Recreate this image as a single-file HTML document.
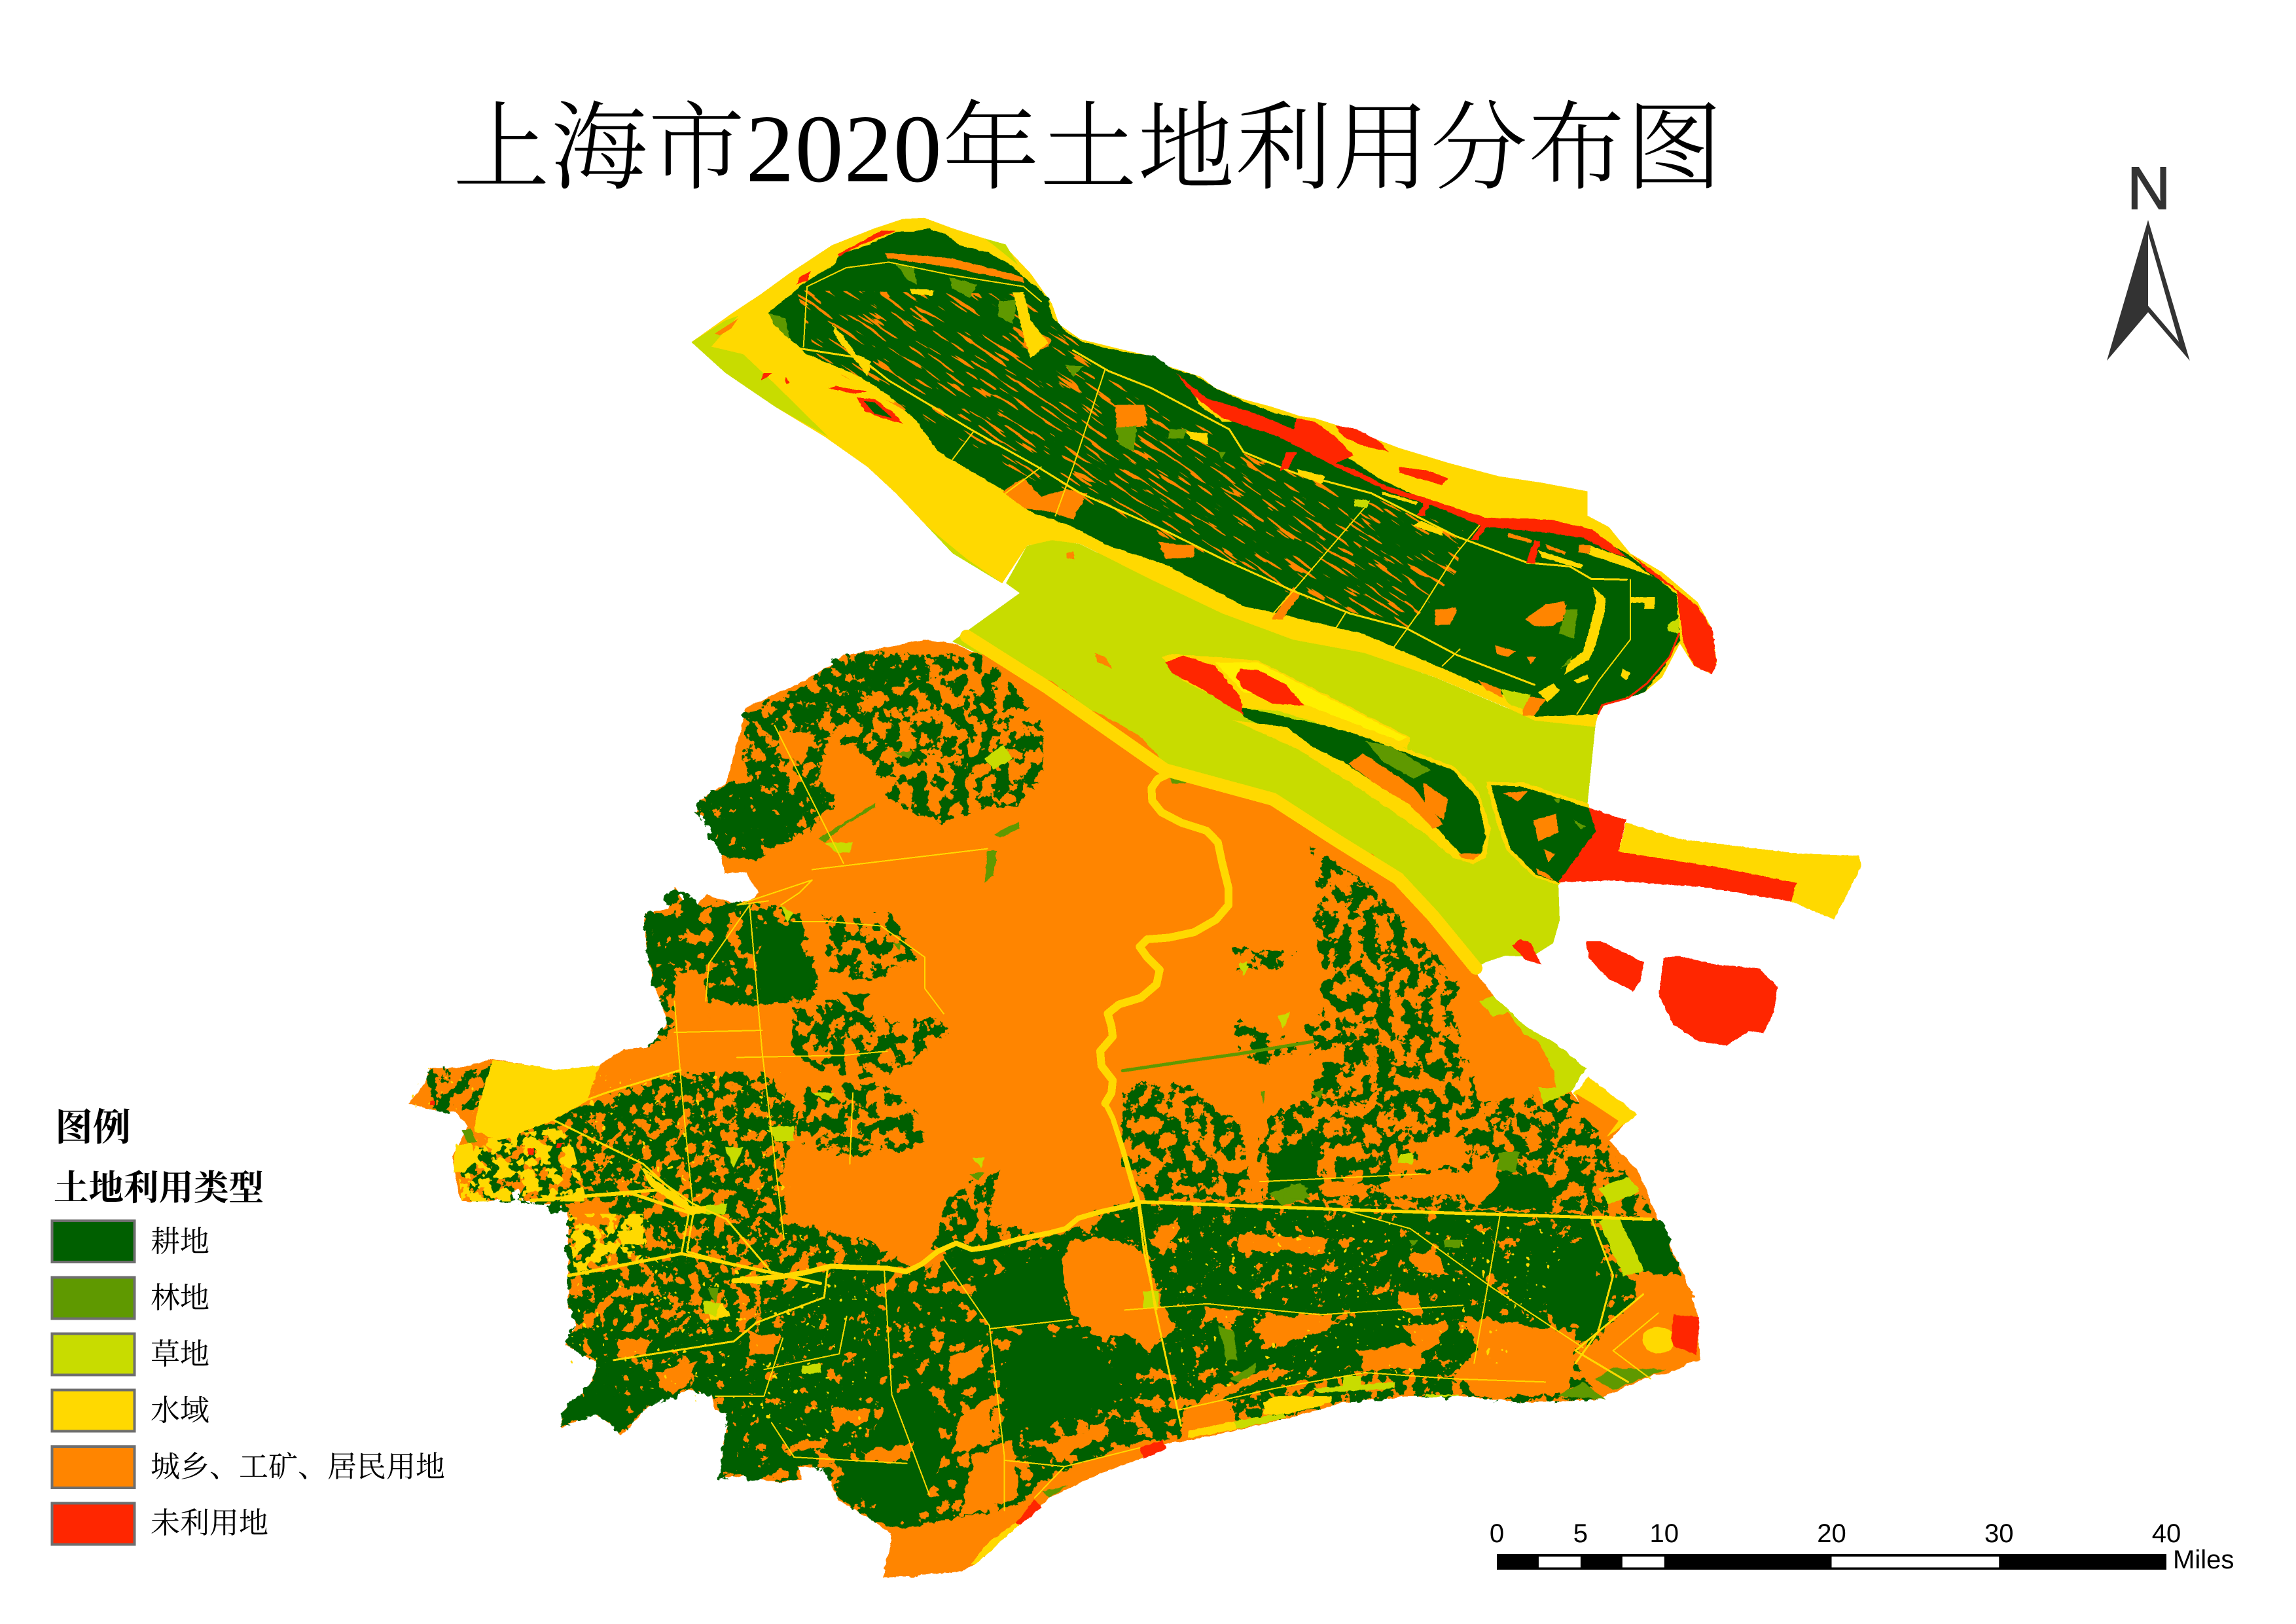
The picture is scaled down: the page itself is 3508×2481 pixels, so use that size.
<!DOCTYPE html>
<html lang="zh">
<head>
<meta charset="utf-8">
<title>上海市2020年土地利用分布图</title>
<style>
html,body{margin:0;padding:0;background:#fff}
svg{display:block}
.dk{fill:#005f00}.fo{fill:#5f9900}.gr{fill:#c8dc00}.wa{fill:#ffd900}.ur{fill:#ff8500}.re{fill:#ff2600}.by{fill:#fff000}
.r{fill:none;stroke:#ffd900;stroke-linejoin:round;stroke-linecap:round;vector-effect:non-scaling-stroke}
.w2{stroke-width:2}.w3{stroke-width:3}.w5{stroke-width:5}.w8{stroke-width:8}.w12{stroke-width:12}.w16{stroke-width:16}.w26{stroke-width:20}
.cjk{font-family:"Liberation Serif","Noto Serif CJK SC",serif}
.sans{font-family:"Liberation Sans",sans-serif}
</style>
</head>
<body>
<svg id="map-figure" xmlns="http://www.w3.org/2000/svg" width="3508" height="2481" viewBox="0 0 3508 2481">
<defs>
<filter id="rough" filterUnits="userSpaceOnUse" x="0" y="0" width="3508" height="2481" color-interpolation-filters="sRGB">
<feTurbulence type="fractalNoise" baseFrequency=".06" numOctaves="3" seed="7" result="n"/>
<feDisplacementMap in="SourceGraphic" in2="n" scale="18" xChannelSelector="R" yChannelSelector="G"/>
</filter>
<filter id="fine" filterUnits="userSpaceOnUse" x="0" y="0" width="3508" height="2481" color-interpolation-filters="sRGB">
<feTurbulence type="fractalNoise" baseFrequency=".09" numOctaves="2" seed="11" result="n"/>
<feDisplacementMap in="SourceGraphic" in2="n" scale="5" xChannelSelector="R" yChannelSelector="G"/>
</filter>
<filter id="g50" filterUnits="userSpaceOnUse" x="0" y="0" width="3508" height="2481" color-interpolation-filters="sRGB">
<feTurbulence type="fractalNoise" baseFrequency=".048" numOctaves="4" seed="4" result="n"/>
<feColorMatrix in="n" type="matrix" values="0 0 0 0 0 0 0 0 0 0 0 0 0 0 0 1 0 0 0 0" result="a"/>
<feComponentTransfer in="a" result="m"><feFuncA type="linear" slope="60" intercept="-29.4"/></feComponentTransfer>
<feDisplacementMap in="SourceGraphic" in2="n" scale="24" xChannelSelector="R" yChannelSelector="G" result="d"/>
<feComposite in="d" in2="m" operator="in"/>
</filter>
<filter id="g72" filterUnits="userSpaceOnUse" x="0" y="0" width="3508" height="2481" color-interpolation-filters="sRGB">
<feTurbulence type="fractalNoise" baseFrequency=".055" numOctaves="4" seed="9" result="n"/>
<feColorMatrix in="n" type="matrix" values="0 0 0 0 0 0 0 0 0 0 0 0 0 0 0 1 0 0 0 0" result="a"/>
<feComponentTransfer in="a" result="m"><feFuncA type="linear" slope="60" intercept="-26.4"/></feComponentTransfer>
<feDisplacementMap in="SourceGraphic" in2="n" scale="20" xChannelSelector="R" yChannelSelector="G" result="d"/>
<feComposite in="d" in2="m" operator="in"/>
</filter>
<filter id="g85" filterUnits="userSpaceOnUse" x="0" y="0" width="3508" height="2481" color-interpolation-filters="sRGB">
<feTurbulence type="fractalNoise" baseFrequency=".045" numOctaves="4" seed="15" result="n"/>
<feColorMatrix in="n" type="matrix" values="0 0 0 0 0 0 0 0 0 0 0 0 0 0 0 1 0 0 0 0" result="a"/>
<feComponentTransfer in="a" result="m"><feFuncA type="linear" slope="60" intercept="-23.4"/></feComponentTransfer>
<feDisplacementMap in="SourceGraphic" in2="n" scale="20" xChannelSelector="R" yChannelSelector="G" result="d"/>
<feComposite in="d" in2="m" operator="in"/>
</filter>
<filter id="ys" filterUnits="userSpaceOnUse" x="0" y="0" width="3508" height="2481" color-interpolation-filters="sRGB">
<feTurbulence type="fractalNoise" baseFrequency=".05" numOctaves="3" seed="21" result="n"/>
<feColorMatrix in="n" type="matrix" values="0 0 0 0 0 0 0 0 0 0 0 0 0 0 0 1 0 0 0 0" result="a"/>
<feComponentTransfer in="a" result="m"><feFuncA type="linear" slope="60" intercept="-30"/></feComponentTransfer>
<feComposite in="SourceGraphic" in2="m" operator="in"/>
</filter>
<filter id="ys2" filterUnits="userSpaceOnUse" x="0" y="0" width="3508" height="2481" color-interpolation-filters="sRGB">
<feTurbulence type="fractalNoise" baseFrequency=".1" numOctaves="2" seed="31" result="n"/>
<feColorMatrix in="n" type="matrix" values="0 0 0 0 0 0 0 0 0 0 0 0 0 0 0 1 0 0 0 0" result="a"/>
<feComponentTransfer in="a" result="m"><feFuncA type="linear" slope="60" intercept="-44.4"/></feComponentTransfer>
<feComposite in="SourceGraphic" in2="m" operator="in"/>
</filter>
<filter id="streak" filterUnits="userSpaceOnUse" x="-1500" y="-1500" width="6500" height="6500" color-interpolation-filters="sRGB">
<feTurbulence type="fractalNoise" baseFrequency=".02 .17" numOctaves="2" seed="5" result="n"/>
<feColorMatrix in="n" type="matrix" values="0 0 0 0 0 0 0 0 0 0 0 0 0 0 0 1 0 0 0 0" result="a"/>
<feComponentTransfer in="a" result="m"><feFuncA type="linear" slope="60" intercept="-37.8"/></feComponentTransfer>
<feComposite in="SourceGraphic" in2="m" operator="in"/>
</filter>
</defs>

<rect width="3508" height="2481" fill="#fff"/>

<text class="cjk" x="692" y="277" font-size="148" textLength="1940" lengthAdjust="spacing" font-weight="300" fill="#000">上海市2020年土地利用分布图</text>

<g id="map" shape-rendering="crispEdges">

<!-- Yangtze grass and north-bank water -->
<g>
<polygon class="gr" points="1558,906 1537,891 1569,834 1607,825 1650,831 1759,885 1867,937 1976,977 2084,997 2193,1035 2301,1081 2344,1098 2439,1095 2425,1233 2381,1349 2383,1406 2373,1441 2340,1462 2300,1460 2270,1470 2255,1479 2190,1400 2136,1342 2044,1285 1945,1221 1853,1196 1780,1176 1700,1120 1600,1050 1455,980"/>
</g>
<g transform="translate(1000 300) scale(1.0842 .574)">
<polygon class="wa" points="52,388 110,310 150,260 190,205 250,130 310,85 350,60 380,57 420,85 470,115 500,145 530,205 560,285 570,340 600,380 660,408 700,425 720,450 770,480 790,510 830,540 870,560 910,585 930,590 980,620 1050,670 1120,710 1190,745 1250,762 1315,785 1315,850 1345,880 1375,950 1420,1000 1470,1080 1490,1150 1497,1240 1490,1272 1465,1250 1445,1190 1420,1280 1395,1320 1340,1350 1330,1378 1325,1412 1240,1395 1200,1360 1100,1280 1000,1215 900,1180 800,1110 700,1020 600,925 560,915 525,930 490,1030 420,950 380,870 340,790 300,720 240,640 170,560 100,470"/>
<polygon class="gr" points="52,388 100,330 118,318 80,400 125,420 170,500 245,640 170,560 100,470"/>
<polygon class="ur" points="85,365 118,325 108,352 92,370"/>
<polygon class="gr" points="380,870 395,895 440,965 490,1030 420,950"/>
<polygon class="gr" points="465,112 495,128 512,182 478,130"/>
</g>

<!-- South land base (urban) -->
<g filter="url(#fine)">
<g transform="translate(600 1000) scale(.9566 .6378)">
<polygon class="ur" points="280,1568 280,1340 260,1310 210,1310 200,1280 190,1285 190,1305 125,1310 110,1310 105,1290 95,1200 120,1130 100,1095 60,1090 25,1075 50,1030 60,990 110,990 160,968 220,985 260,995 330,985 345,968 370,945 410,940 440,880 420,800 405,700 402,620 440,610 450,555 465,590 485,600 500,575 545,595 570,590 585,570 570,540 565,520 530,525 525,480 510,400 485,380 490,350 520,320 570,280 555,250 570,215 560,190 570,165 560,140 590,120 640,90 690,45 720,0 745,0 850,0 975,0 1100,120 1190,190 1240,270 1568,480 1568,1568"/>
</g>
<g transform="translate(800 1700) scale(1.148 .4783)">
<polygon class="ur" points="0,280 55,300 70,420 60,520 70,680 55,740 85,780 100,800 85,880 55,950 50,1005 95,960 120,1000 128,1030 135,1020 165,940 190,905 220,885 250,900 255,950 280,970 270,1010 265,1080 262,1165 290,1160 340,1180 370,1170 365,1130 400,1135 420,1240 470,1310 490,1345 480,1485 580,1465 600,1445 660,1310 700,1230 760,1160 820,1105 850,1060 890,1045 1020,975 1090,925 1180,905 1250,905 1330,925 1430,915 1520,820 1566,790 1560,640 1500,340 1440,100 1480,0 0,0"/>
</g>
<g transform="translate(1700 1100) scale(.7653 .6378)">
<polygon class="ur" points="0,20 100,110 320,190 450,290 570,380 640,470 725,605 760,660 830,740 945,835 915,890 985,1000 1050,1080 1090,1200 1140,1330 1170,1430 1165,1520 1140,1550 1100,1568 0,1568"/>
</g>
<g transform="translate(1000 300) scale(1.0842 .574)">
<polygon class="ur" points="380,1180 420,1190 560,1290 720,1520 720,1568 100,1568 130,1360 210,1290 275,1220"/>
</g>
</g>

<!-- Farmland: mid density -->
<g class="dk" filter="url(#g50)">
<g transform="translate(600 1000) scale(.9566 .6378)">
<polygon points="620,150 720,0 950,0 1040,170 1040,300 1000,360 900,390 870,400 800,350 760,250 700,190"/>
<polygon points="640,850 700,830 800,880 870,870 890,900 820,990 750,1020 640,960"/>
<polygon points="690,630 800,620 840,730 760,780 700,760"/>
<polygon points="650,1050 780,1020 850,1120 850,1180 730,1200 650,1170"/>
<polygon points="1165,1030 1250,1020 1360,1130 1350,1300 1200,1310 1170,1170"/>
<polygon points="1400,1100 1568,1000 1568,1290 1400,1300"/>
<polygon points="1350,870 1460,940 1400,980 1350,950"/>
<polygon points="1345,700 1430,720 1420,750 1350,750"/>
<polygon points="60,1000 180,975 190,1050 130,1090 60,1090"/>
</g>
<g transform="translate(1700 1100) scale(.7653 .6378)">
<polygon points="400,300 520,400 640,560 700,640 640,740 600,700 500,760 400,800 390,730 420,700 420,600 405,490"/>
<polygon points="20,1050 70,940 150,880 260,980 280,1140 180,1150 60,1120"/>
<polygon points="290,1000 400,950 400,820 500,760 600,700 680,700 740,920 830,890 900,1000 970,1180 300,1150"/>
<polygon points="850,890 920,900 980,1000 1080,1180 980,1190 930,1100"/>
<polygon points="250,560 370,550 330,600 260,600"/>
</g>
</g>

<!-- Farmland: medium-high density -->
<g class="dk" filter="url(#g72)">
<g transform="translate(600 1000) scale(.9566 .6378)">
<polygon points="260,1100 460,1000 600,1000 650,1100 620,1250 640,1420 640,1568 280,1568 280,1340 200,1310 125,1310 105,1200"/>
<polygon points="860,1420 890,1300 970,1230 950,1360 1040,1390 1010,1420 900,1450"/>
<polygon points="1120,1340 1190,1300 1190,1400 1140,1420"/>
<polygon points="590,120 640,90 690,45 720,0 850,0 860,60 780,90 700,130 640,190 600,190"/>
<polygon points="560,140 620,120 700,190 680,300 720,350 660,420 580,490 525,480 510,400 485,380 490,350 570,280 555,250 570,215 560,190 570,165"/>
<polygon points="405,620 470,640 470,800 450,900 410,940 440,880 420,800 405,700"/>
</g>
<g transform="translate(1700 1100) scale(.7653 .6378)">
<polygon points="50,1170 960,1190 990,1400 960,1480 850,1540 0,1568 0,1200"/>
</g>
<g transform="translate(800 1700) scale(1.148 .4783)">
<polygon points="55,300 200,250 330,330 470,420 470,900 330,1100 262,1165 265,1060 275,990 255,900 220,885 165,940 128,1030 120,1000 95,960 50,1005 55,950 85,880 100,800 55,740 70,680 60,520"/>
<polygon points="940,900 1000,860 1100,820 1240,830 1360,840 1400,790 1430,915 1330,925 1250,905 1180,905 1090,925 1020,975 950,990"/>
</g>
</g>

<!-- Farmland: high density -->
<g class="dk" filter="url(#g85)">
<g transform="translate(600 1000) scale(.9566 .6378)">
<polygon points="525,480 485,380 490,350 570,280 620,330 700,340 670,410 580,490"/>
<polygon points="402,620 450,560 490,600 570,590 650,620 680,770 670,830 580,840 500,830 460,750 420,800 405,700"/>
<polygon points="880,1440 1040,1400 1100,1370 1120,1568 880,1568"/>
</g>
<g transform="translate(800 1700) scale(1.148 .4783)">
<polygon points="330,600 470,420 520,500 720,400 800,300 1000,280 1420,330 1500,340 1520,500 1420,740 1390,790 1300,770 1270,800 1240,830 1100,830 1020,870 880,960 875,1040 820,1050 700,1160 640,1280 500,1330 470,1310 420,1240 400,1135 365,1130 370,1170 340,1180 290,1160 262,1165 265,1060 275,990"/>
<polygon points="60,700 330,700 270,1000 250,900 220,885 165,940 128,1030 120,1000 95,960 50,1005 55,950 85,880 100,800 55,740 70,680"/>
</g>
</g>

<!-- Solid farmland -->
<g class="dk" filter="url(#rough)">
<g transform="translate(800 1700) scale(1.148 .4783)">
<polygon points="600,540 720,430 720,620 730,680 620,690"/>
<polygon points="650,700 760,720 800,900 700,1000 640,1000"/>
<polygon points="1060,720 1180,560 1180,700 1150,800 1050,810"/>
<polygon points="1290,480 1430,400 1430,720 1370,640"/>
<polygon points="55,960 90,900 130,930 128,1020 95,960 52,1000"/>
<polygon points="490,900 540,850 560,1100 520,1300 480,1280 430,1170"/>
</g>
<g transform="translate(600 1000) scale(.9566 .6378)">
<polygon points="585,640 650,650 670,820 585,835"/>
<polygon points="1400,1200 1470,1150 1480,1290 1400,1290"/>
<polygon points="720,815 760,815 745,855"/>
</g>
<g transform="translate(1700 1100) scale(.7653 .6378)">
<polygon points="1000,1190 1095,1200 1140,1335 1060,1325"/>
<polygon points="740,1085 860,1090 880,1180 740,1165"/>
</g>
</g>

<!-- Urban patches over farmland -->
<g class="ur" filter="url(#rough)">
<g transform="translate(800 1700) scale(1.148 .4783)">
<polygon points="720,420 780,400 830,450 850,620 870,680 830,760 800,700 770,730 730,640 720,560"/>
<polygon points="480,1480 490,1345 530,1320 600,1280 650,1260 680,1240 600,1445 580,1465"/>
<polygon points="910,620 960,640 940,670 905,660"/>
<polygon points="990,640 1090,660 1040,720 990,740 970,700"/>
<polygon points="1170,680 1230,670 1220,730 1190,770"/>
<polygon points="1250,650 1400,700 1400,780 1390,900 1270,910 1240,830 1270,750"/>
<polygon points="1480,520 1530,510 1550,600 1510,640 1480,640"/>
<polygon points="880,950 930,880 960,850 1000,800 990,840 940,900 880,1020"/>
<polygon points="175,830 230,790 215,880 195,900"/>
<polygon points="125,720 170,720 165,770 125,790"/>
<polygon points="300,700 345,700 330,780 300,770"/>
<polygon points="565,780 610,740 610,820 570,860"/>
<polygon points="580,980 620,900 625,1060 570,1090"/>
<polygon points="700,1060 780,980 760,1040 710,1120"/>
<polygon points="410,940 460,950 455,990 415,990"/>
<polygon points="450,1080 520,1060 510,1110 460,1120"/>
<polygon points="1110,760 1190,740 1200,810 1120,825"/>
<polygon points="1230,240 1290,130 1300,230 1270,300"/>
<polygon points="600,1090 650,1050 660,1230 580,1290"/>
<polygon points="830,400 870,340 870,400 850,450"/>
<polygon points="950,400 1020,400 1010,440 950,445"/>
<polygon points="1180,450 1210,440 1230,520 1190,520"/>
</g>
<g transform="translate(1700 1100) scale(.7653 .6378)">
<polygon points="695,720 770,705 850,820 870,890 745,915"/>
<polygon points="1050,1325 1140,1330 1170,1430 1120,1440 1115,1490 1060,1480"/>
<polygon points="1000,1500 1100,1520 1060,1568 980,1568"/>
<polygon points="530,1110 640,1080 730,1080 700,1140 540,1140"/>
<polygon points="600,1010 700,1000 720,1060 620,1080"/>
<polygon points="410,1110 520,1110 490,1140 420,1140"/>
<polygon points="320,1440 440,1420 430,1460 330,1500"/>
<polygon points="250,1230 430,1240 420,1280 260,1270"/>
<polygon points="570,1370 610,1370 620,1430 580,1420"/>
</g>
<g transform="translate(600 1000) scale(.9566 .6378)">
<polygon points="450,760 500,760 505,900 450,900"/>
<polygon points="280,1320 330,1300 360,1370 290,1370"/>
<polygon points="620,180 680,190 650,260 610,240"/>
</g>
</g>

<!-- Yellow speckle west, sparse field ponds -->
<g class="wa" filter="url(#ys)">
<g transform="translate(600 1000) scale(.9566 .6378)">
<polygon points="100,1170 280,1130 310,1310 110,1310"/>
<polygon points="280,1340 400,1340 400,1450 290,1480"/>
</g>
</g>
<g class="wa" filter="url(#ys2)">
<g transform="translate(600 1000) scale(.9566 .6378)">
<polygon points="300,1000 640,1000 640,1300 300,1300"/>
<polygon points="20,980 200,980 180,1100 30,1100"/>
</g>
<g transform="translate(800 1700) scale(1.148 .4783)">
<polygon points="60,300 470,420 470,1100 60,800"/>
<polygon points="850,330 1420,340 1300,800 880,900"/>
</g>
</g>

<!-- Dianshan lake and other water bodies -->
<g class="wa" filter="url(#fine)">
<g transform="translate(600 1000) scale(.9566 .6378)">
<polygon points="135,1090 160,970 220,985 260,995 330,985 310,1070 250,1120 170,1165 130,1140"/>
<polygon points="100,1175 125,1170 135,1210 115,1240 97,1240"/>
<polygon points="395,1225 420,1260 470,1310 480,1340 455,1320 410,1270"/>
<polygon points="465,1320 515,1320 500,1340 470,1340"/>
<polygon points="555,1490 590,1495 590,1510 555,1505"/>
</g>
<g transform="translate(1700 1100) scale(.7653 .6378)">
<polygon points="920,895 950,855 1048,945 985,1000"/>
<circle cx="1090" cy="1485" r="32"/>
</g>
<g transform="translate(800 1700) scale(1.148 .4783)">
<polygon points="985,925 1000,905 1075,905 1075,925 1020,960 985,965"/>
<polygon points="885,1040 885,1015 945,985 950,1010"/>
<polygon points="600,1445 660,1315 655,1310 620,1370 595,1440"/>
<polygon points="240,620 265,610 275,650 250,660"/>
<polygon points="125,380 160,370 160,420 130,420"/>
</g>
</g>
<g class="ur" transform="translate(1700 1100) scale(.7653 .6378)">
<polygon points="925,895 960,920 1010,960 985,1000 940,950"/>
</g>

<!-- Grass patches -->
<g class="gr" filter="url(#fine)">
<g transform="translate(1700 1100) scale(.7653 .6378)">
<polygon points="730,675 760,660 830,740 880,770 945,835 915,890 860,920 850,880 885,880 880,840 850,770 820,750 790,700 760,710"/>
<polygon points="970,1200 1010,1190 1062,1320 1020,1332"/>
<polygon points="970,1120 1030,1095 1052,1130 990,1160"/>
<polygon points="255,580 272,590 260,612"/><polygon points="330,710 355,700 340,740"/>
<polygon points="575,1040 600,1035 600,1065 570,1060"/>
</g>
<g transform="translate(800 1700) scale(1.148 .4783)">
<polygon points="1430,240 1470,205 1485,245 1450,280"/>
<polygon points="1050,880 1160,860 1160,880 1060,895"/>
<polygon points="1090,840 1115,840 1115,885 1090,885"/>
<polygon points="945,985 1010,960 1015,975 950,1010"/>
<polygon points="1200,900 1245,900 1245,905 1200,908"/>
<polygon points="825,570 845,570 845,625 825,625"/>
<polygon points="240,600 262,610 255,650 240,640"/>
<polygon points="370,810 395,800 395,830 370,835"/>
</g>
<g transform="translate(600 1000) scale(.9566 .6378)">
<polygon points="945,250 975,215 990,250 960,275"/>
<polygon points="690,450 735,450 730,475 710,475"/>
<polygon points="600,1130 640,1130 640,1165 610,1165"/>
<polygon points="530,1180 560,1180 545,1230"/>
<polygon points="1350,740 1365,735 1360,770"/>
<polygon points="500,1320 535,1315 530,1340 500,1340"/>
<polygon points="620,600 640,620 630,640"/>
<polygon points="670,1050 705,1050 695,1070"/>
<polygon points="925,1205 945,1205 940,1230"/>
<polygon points="1415,865 1432,860 1425,890"/>
</g>
</g>

<!-- Forest patches -->
<g class="fo" filter="url(#fine)">
<g transform="translate(600 1000) scale(.9566 .6378)">
<polygon points="680,440 740,385 770,355 772,365 720,410 690,450"/>
<polygon points="950,470 965,470 960,530 945,545"/>
<polygon points="960,430 1000,400 1002,415 970,440"/>
<polygon points="1240,292 1275,295 1265,310 1245,308"/>
<polygon points="110,1140 125,1135 135,1170 120,1170"/>
<polygon points="1400,1290 1450,1265 1465,1300 1420,1320"/>
<polygon points="800,235 830,230 825,250"/>
<polygon points="800,690 812,690 810,710"/>
<polygon points="920,1245 945,1240 935,1260"/>
</g>
<g transform="translate(1700 1100) scale(.7653 .6378)">
<polygon points="770,1035 805,1035 800,1075 770,1070"/>
<polygon points="355,1110 390,1120 380,1150 340,1150"/>
<polygon points="590,1245 610,1245 600,1260"/><polygon points="660,1245 690,1245 680,1265"/>
<polygon points="295,890 305,890 300,920"/>
<polygon points="395,895 420,885 415,905"/>
</g>
<g transform="translate(800 1700) scale(1.148 .4783)">
<polygon points="925,680 945,700 950,790 935,790"/>
<polygon points="940,850 975,800 975,830 950,860"/>
<polygon points="1300,125 1325,125 1320,190 1295,180"/>
<polygon points="1375,905 1410,860 1440,915"/>
<polygon points="1450,815 1520,820 1450,885 1425,850"/>
<polygon points="1225,405 1250,405 1245,430 1225,430"/>
<polygon points="1020,230 1040,230 1040,280 1020,270"/>
<polygon points="245,560 260,560 255,610"/>
<polygon points="690,1210 725,1190 700,1230"/>
</g>
</g>
<g transform="translate(1700 1100) scale(.7653 .6378)">
<polyline class="r w5" style="stroke:#5f9900" points="20,840 160,815 250,800 400,770"/>
</g>

<!-- Red patches on south land -->
<g class="re" filter="url(#fine)">
<g transform="translate(800 1700) scale(1.148 .4783)">
<polygon points="820,1070 850,1045 855,1075 825,1105"/>
<polygon points="655,1310 680,1235 690,1260 662,1315"/>
</g>
<g transform="translate(1700 1100) scale(.7653 .6378)">
<polygon points="1120,1425 1172,1430 1165,1520 1120,1500 1115,1480"/>
</g>
<g transform="translate(600 1000) scale(.9566 .6378)">
<polygon points="215,1185 225,1180 225,1198 215,1200"/>
<polygon points="262,1170 270,1170 268,1182 262,1182"/>
<polygon points="60,1070 68,1070 68,1080 60,1080"/>
</g>
</g>

<!-- Rivers and canals -->
<g transform="translate(600 1000) scale(.9566 .6378)">
<polyline class="r w12" points="1240,285 1222,298 1212,320 1213,350 1228,378 1260,403 1300,422 1318,450 1325,500 1335,560 1335,600 1315,635 1280,665 1240,678 1205,682 1193,700 1205,725 1225,755 1220,790 1195,822 1160,838 1142,860 1148,890 1150,915 1130,950 1132,985 1150,1020 1148,1050 1138,1075"/>
<polyline class="r w8" points="1138,1075 1150,1110 1165,1180 1190,1310"/>
<polyline class="r w3" points="1190,1310 1200,1430 1220,1568"/>
<polyline class="r w8" points="1190,1315 1130,1335 1095,1350 1075,1375 1050,1385 1000,1400 950,1420 925,1425 900,1410 870,1430 845,1460 820,1478 790,1470 740,1468 700,1465 660,1480 620,1490 545,1500"/>
</g>
<g transform="translate(600 1000) scale(.9566 .6378)">
<polyline class="r w5" points="480,1340 380,1290 280,1300"/>
<polyline class="r w3" points="250,1110 400,1220 480,1330"/>
<polyline class="r w3" points="480,1340 470,1430 595,1480"/>
<polyline class="r w3" points="250,1100 340,1050 460,995"/>
<polyline class="r w2" points="570,600 590,950 625,1400"/>
<polyline class="r w2" points="450,830 462,1050 480,1330"/>
<polyline class="r w2" points="570,600 505,740 500,830"/>
<polyline class="r w2" points="600,590 550,600 670,540 650,570 620,600"/>
<polyline class="r w2" points="670,515 950,465"/>
<polyline class="r w2" points="610,170 720,500"/>
<polyline class="r w2" points="450,905 590,900"/>
<polyline class="r w2" points="550,965 720,960 790,950"/>
<polyline class="r w2" points="640,640 700,640 780,650 850,725"/>
<polyline class="r w2" points="850,725 850,800 880,860"/>
<polyline class="r w2" points="735,1050 730,1220"/>
<polyline class="r w2" points="1190,1308 1568,1330"/>
</g>
<g transform="translate(800 1700) scale(1.148 .4783)">
<polyline class="r w5" points="820,285 1100,310 1500,340"/>
<polyline class="r w3" points="820,290 840,620 875,1000"/>
<polyline class="r w2" points="1090,310 1180,370 1290,560 1410,750"/>
<polyline class="r w2" points="1300,320 1265,800"/>
<polyline class="r w3" points="1420,330 1450,520 1430,700 1400,800"/>
<polyline class="r w2" points="620,690 730,660"/>
<polyline class="r w2" points="800,630 910,610 1060,645 1250,615"/>
<polyline class="r w2" points="870,950 1000,880 1120,830 1240,850 1360,860"/>
<polyline class="r w2" points="560,470 620,680 640,1100 640,1270"/>
<polyline class="r w2" points="480,500 490,900 540,1220"/>
<polyline class="r w2" points="330,990 360,1100 510,1120"/>
<polyline class="r w2" points="640,1110 720,1130 820,1070"/>
<polyline class="r w2" points="720,1130 680,1230"/>
<polyline class="r w5" points="60,520 210,450 330,510 395,545"/>
<polyline class="r w3" points="210,450 220,320"/>
<polyline class="r w5" points="10,280 185,245"/>
<polyline class="r w3" points="160,180 225,290 270,340 330,510"/>
<polyline class="r w3" points="405,490 400,590 310,670 280,730 120,790"/>
<polyline class="r w2" points="320,820 420,770 430,650"/>
<polyline class="r w2" points="255,905 320,905 345,720"/>
<polyline class="r w2" points="980,220 1200,195"/>
<polyline class="r w3" points="1490,580 1440,680 1400,760 1470,860"/>
<polyline class="r w2" points="1510,640 1450,760 1500,850"/>
</g>
<g>
<polyline class="r w26" points="1477,972 1600,1050 1700,1120 1780,1176 1853,1196 1945,1221 2044,1285 2136,1342 2190,1400 2255,1479"/>
</g>

<!-- Chongming island -->
<g transform="translate(1000 300) scale(1.0842 .574)" filter="url(#fine)">
<polygon class="dk" points="160,310 190,265 215,225 255,180 260,155 300,130 340,95 365,95 385,85 410,100 430,130 470,150 500,180 530,230 555,270 560,320 580,360 600,385 640,405 665,415 705,425 730,460 760,475 790,510 830,545 870,575 905,590 950,660 1020,750 1100,820 1170,860 1300,880 1370,950 1410,1010 1440,1060 1445,1180 1420,1260 1395,1320 1340,1350 1330,1378 1240,1385 1200,1330 1140,1280 1060,1215 1000,1165 900,1120 830,1090 790,1050 720,980 640,930 590,880 530,840 490,780 400,680 370,600 330,530 290,480 215,420 180,360"/>
</g>
<g transform="rotate(34 1700 800)">
<g filter="url(#streak)" class="ur">
<g transform="rotate(-34 1700 800) translate(1000 300) scale(1.0842 .574)">
<polygon points="200,250 520,260 640,470 850,700 1010,800 1140,890 1130,1000 1060,1150 900,1060 560,780 400,620 230,440"/>
</g>
</g>
</g>
<g transform="translate(1000 300) scale(1.0842 .574)">
<g class="ur" filter="url(#fine)">
<polygon points="490,785 520,750 545,800 580,780 610,790 590,860 560,840 520,830"/>
<polygon points="650,555 690,555 695,610 650,620"/>
<polygon points="325,150 420,165 520,215 520,230 420,190 330,165"/>
<polygon points="710,920 760,930 760,960 720,965"/>
<polygon points="870,1125 900,1040 910,1060 885,1125"/>
<polygon points="525,350 560,380 555,400 530,420 520,390"/>
<polygon points="1240,1130 1285,1085 1280,1130 1250,1145"/>
<polygon points="1100,1100 1130,1095 1120,1140 1100,1140"/>
</g>
<g class="fo" filter="url(#fine)">
<polygon points="650,615 680,610 675,680 655,660"/>
<polygon points="340,180 365,190 370,235 355,220"/>
<polygon points="415,215 455,235 445,270 420,245"/>
<polygon points="485,280 510,275 505,340 485,320"/>
<polygon points="580,450 605,450 590,480"/>
<polygon points="725,620 750,620 745,645 725,645"/>
<polygon points="795,680 805,680 800,700"/>
<polygon points="160,310 185,325 190,380 170,345"/>
</g>
<g class="wa" filter="url(#fine)">
<polygon points="505,255 520,255 530,330 555,390 530,430 520,370"/>
<polygon points="250,340 265,370 285,420 305,440 300,480 290,450 270,410 255,370"/>
<polygon points="360,245 395,250 390,265 362,260"/>
<polygon points="748,625 780,630 780,660 755,645"/>
<polygon points="905,725 945,745 940,765 910,745"/>
<polygon points="760,530 790,560 815,600 800,600 770,560"/>
</g>
<polyline class="r w2" points="215,240 270,190 330,175 420,210 520,240 545,280"/>
<polyline class="r w2" points="215,240 210,400"/>
<polyline class="r w3" points="205,405 290,430 330,490 450,625 540,720 600,790 720,890 800,965 900,1050 980,1110 1060,1150 1130,1220 1240,1300"/>
<polyline class="r w3" points="590,410 640,465 700,510 760,570 810,620 830,680 900,735 1010,790 1130,905 1230,975 1290,985 1320,1018 1370,1020"/>
<polyline class="r w2" points="635,460 590,720 565,850"/>
<polyline class="r w2" points="1000,830 900,1050 865,1125"/>
<polyline class="r w2" points="1165,870 1130,950 1080,1100 1040,1205"/>
<polyline class="r w2" points="450,625 420,700"/>
<polyline class="r w2" points="545,720 495,790"/>
<polyline class="r w2" points="1375,1020 1375,1180 1330,1290 1300,1378"/>
<polyline class="r w2" points="975,1105 960,1150"/>
<polyline class="r w2" points="1135,1205 1110,1250"/>
<g class="re" filter="url(#fine)">
<polygon points="735,470 760,510 780,540 800,550 850,580 900,620 905,590 930,600 960,640 985,690 960,710 990,730 1030,770 1090,805 1170,855 1260,860 1320,885 1345,920 1370,960 1350,950 1310,910 1260,895 1170,880 1100,825 1040,790 960,720 880,640 800,590 760,530"/>
<polygon points="960,610 990,620 1020,650 1035,680 1000,665 970,640"/>
<polygon points="1050,720 1090,730 1118,750 1110,768 1075,750 1050,735"/>
<polygon points="1378,955 1420,1015 1470,1090 1490,1150 1497,1240 1490,1272 1465,1250 1450,1190 1440,1050 1400,1000"/>
<polygon points="882,730 890,680 905,680 892,725"/>
<polygon points="1075,848 1085,815 1092,818 1085,850"/>
<polygon points="1150,915 1168,865 1175,870 1160,915"/>
<polygon points="1228,975 1240,915 1248,918 1240,978"/>
<polygon points="320,90 340,92 290,130 260,160 258,155"/>
<polygon points="255,505 300,520 280,525 245,510"/>
<polygon points="155,470 165,470 160,480 150,490"/>
<polygon points="185,480 190,495 185,500"/>
<polygon points="205,215 220,198 215,225 200,235"/>
<polygon points="285,535 310,540 340,580 350,605 320,590 295,570"/>
</g>
<polygon class="dk" points="295,545 310,548 335,590 310,578"/>
</g>
<g transform="translate(2000 700) scale(.574 .4464)">
<g class="wa" filter="url(#fine)">
<polygon points="755,440 790,480 785,540 760,650 745,690 680,740 690,700 730,660 745,590 765,490"/>
<polygon points="855,475 920,475 920,515 893,515 893,495 855,495"/>
<polygon points="610,315 730,365 725,378 620,340"/>
<polygon points="610,800 650,770 668,795 635,835"/>
<polygon points="275,230 300,215 355,245 355,265"/>
<polygon points="835,720 855,735 845,760 830,745"/>
<polygon points="705,760 740,740 745,755 715,772"/>
<polygon points="750,300 850,345 915,405 850,375 745,330"/>
<polygon points="195,115 290,150 285,160 195,125"/>
</g>
<g class="ur" filter="url(#fine)">
<polygon points="575,550 630,500 680,490 685,530 650,575 600,575"/>
<polygon points="530,255 595,280 590,290 530,270"/>
<polygon points="630,295 685,320 680,330 635,310"/>
<polygon points="718,295 750,298 745,328 718,322"/>
<polygon points="450,760 510,790 515,820 470,790"/>
<polygon points="565,810 630,825 600,880 570,880"/>
<polygon points="340,520 395,520 375,570 345,560"/>
<polygon points="495,640 550,660 530,680 500,670"/>
<polygon points="580,680 605,680 590,705"/>
</g>
<g class="fo" filter="url(#fine)">
<polygon points="685,518 715,518 705,618 665,600"/>
<polygon points="670,720 700,675 695,700"/>
</g>
<g class="gr" filter="url(#fine)">
<polygon points="510,790 590,810 570,860 530,840"/>
<polygon points="955,570 985,545 985,600 955,590"/>
<polygon points="122,140 162,145 155,170 120,165"/>
</g>
<polyline class="r w3" style="stroke:#ff2600" points="985,600 960,680 900,770 850,820 780,845 770,875"/>
</g>

<!-- Changxing / Hengsha islands in the river -->
<g transform="translate(1000 300) scale(1.0842 .574)" filter="url(#fine)">
<polygon class="wa" points="715,1225 730,1218 850,1235 1065,1440 1060,1470 1000,1440 880,1370 820,1360 745,1290"/>
<polygon class="by" points="790,1240 850,1240 1060,1440 1050,1450 900,1340 830,1320"/>
<polygon class="dk" points="825,1360 880,1380 1000,1450 1010,1568 900,1450 830,1385"/>
<polygon class="re" points="720,1240 745,1222 790,1250 825,1330 830,1380 770,1310 730,1270"/>
<polygon class="re" points="825,1258 850,1260 890,1300 915,1355 870,1350 830,1310 820,1280"/>
<polygon class="ur" points="620,1215 635,1225 645,1258 625,1240"/>
<polygon class="ur" points="580,948 590,945 592,965 582,965"/>
</g>
<g transform="translate(1700 1100) scale(.7653 .6378)" filter="url(#fine)">
<polygon class="wa" points="240,0 500,40 590,70 680,110 730,170 755,260 745,330 720,345 680,330 620,270 500,170 370,70"/>
<polygon class="dk" points="330,0 380,0 490,35 600,85 680,120 730,190 745,280 735,320 700,325 670,290 620,220 600,180 560,170 510,140 460,100 400,65"/>
<polygon class="ur" points="470,105 500,80 600,160 660,250 640,260 590,200 540,165"/>
<polygon class="ur" points="620,150 670,190 660,240 625,210"/>
<polygon class="fo" points="505,50 560,65 635,120 600,140 540,100"/>
<polygon class="ur" points="690,320 735,320 720,335 695,330"/>
</g>
<g transform="translate(1700 1100) scale(.7653 .6378)" filter="url(#fine)">
<polygon class="wa" points="745,148 820,150 950,200 972,265 890,395 840,375 785,310 765,240"/>
<polygon class="dk" points="755,155 820,160 950,210 965,265 890,390 845,370 795,310 775,240"/>
<polygon class="ur" points="840,240 885,225 890,270 850,290"/>
<polygon class="ur" points="780,175 830,170 810,195"/>
<polygon class="ur" points="845,355 870,370 880,385 850,370"/>
<polygon class="ur" points="860,310 885,320 870,340"/>
<polygon class="fo" points="880,190 895,185 890,200"/>
<polygon class="fo" points="920,240 945,255 935,262"/>
</g>
<g transform="translate(1700 1100) scale(.7653 .6378)" filter="url(#fine)">
<polygon class="wa" points="1025,245 1130,285 1370,320 1490,325 1495,350 1440,478 1355,435 1365,390 1220,355 1010,315"/>
<polygon class="re" points="950,210 1025,240 1010,315 1220,355 1365,390 1355,435 1180,400 1000,385 890,388 965,265"/>
<polygon class="re" points="797,540 815,525 835,535 855,585 825,575"/>
<polygon class="re" points="945,530 975,530 1000,545 1060,580 1055,620 1040,650 990,620 950,570"/>
<polygon class="re" points="1100,570 1130,565 1200,585 1290,595 1328,640 1320,700 1300,750 1270,745 1225,780 1170,770 1120,730 1090,660"/>
</g>
</g>

<!-- North arrow -->
<g id="north-arrow">
<text class="sans" x="3250" y="319" font-size="92" fill="#333" stroke="#333" stroke-width="1.5">N</text>
<polygon fill="#333" points="3282,336 3345.7,551 3282,477 3219,551"/>
<polygon fill="#fff" points="3282,357 3329,522 3282,467"/>
</g>

<!-- Legend -->
<g id="legend">
<text class="cjk" x="84" y="1742" font-size="58" font-weight="700" fill="#000">图例</text>
<text class="cjk" x="82" y="1833" font-size="53.5" font-weight="700" fill="#000">土地利用类型</text>
<g>
<rect x="79.5" y="1865" width="126" height="63" fill="#005f00" stroke="#6e6e6e" stroke-width="4"/>
<text class="cjk" x="230" y="1912" font-size="45" fill="#000">耕地</text>
</g>
<g>
<rect x="79.5" y="1951.5" width="126" height="63" fill="#5f9900" stroke="#6e6e6e" stroke-width="4"/>
<text class="cjk" x="230" y="1998" font-size="45" fill="#000">林地</text>
</g>
<g>
<rect x="79.5" y="2037.5" width="126" height="63" fill="#c8dc00" stroke="#6e6e6e" stroke-width="4"/>
<text class="cjk" x="230" y="2084" font-size="45" fill="#000">草地</text>
</g>
<g>
<rect x="79.5" y="2123.5" width="126" height="63" fill="#ffd900" stroke="#6e6e6e" stroke-width="4"/>
<text class="cjk" x="230" y="2170" font-size="45" fill="#000">水域</text>
</g>
<g>
<rect x="79.5" y="2210" width="126" height="63" fill="#ff8500" stroke="#6e6e6e" stroke-width="4"/>
<text class="cjk" x="230" y="2256" font-size="45" fill="#000">城乡、工矿、居民用地</text>
</g>
<g>
<rect x="79.5" y="2296.5" width="126" height="63" fill="#ff2600" stroke="#6e6e6e" stroke-width="4"/>
<text class="cjk" x="230" y="2342" font-size="45" fill="#000">未利用地</text>
</g>
</g>

<!-- Scale bar -->
<g id="scale-bar"></g>
</svg>

<script>
const scaleTickLabels = [0, 5, 10, 20, 30, 40];
const scaleWhiteSegments = [[2.5, 5], [7.5, 10], [20, 30]];
const scaleMaxMiles = 40;
const scaleUnit = 'Miles';

function milesToX(m) {
  return 2287 + (m / scaleMaxMiles) * 1023;
}

const ns = 'http://www.w3.org/2000/svg';
const scaleGroup = document.getElementById('scale-bar');

const barBack = document.createElementNS(ns, 'rect');


barBack.setAttribute('x', milesToX(0));
barBack.setAttribute('y', 2374);
barBack.setAttribute('width', milesToX(scaleMaxMiles) - milesToX(0));
barBack.setAttribute('height', 24);
barBack.setAttribute('fill', '#000');
scaleGroup.appendChild(barBack);

scaleWhiteSegments.forEach(function (seg) {
  const r = document.createElementNS(ns, 'rect');
  
  
  r.setAttribute('x', milesToX(seg[0]));
  r.setAttribute('y', 2378);
  r.setAttribute('width', milesToX(seg[1]) - milesToX(seg[0]));
  r.setAttribute('height', 16.5);
  r.setAttribute('fill', '#fff');
  scaleGroup.appendChild(r);
});

scaleTickLabels.forEach(function (v) {
  const t = document.createElementNS(ns, 'text');
  
  
  t.setAttribute('x', milesToX(v));
  t.setAttribute('y', 2356);
  t.setAttribute('text-anchor', 'middle');
  t.setAttribute('font-size', '40');
  t.setAttribute('font-family', '"Liberation Sans", sans-serif');
  t.textContent = String(v);
  scaleGroup.appendChild(t);
});

const unitLabel = document.createElementNS(ns, 'text');


unitLabel.setAttribute('x', 3320);
unitLabel.setAttribute('y', 2396);
unitLabel.setAttribute('font-size', '40');
unitLabel.setAttribute('font-family', '"Liberation Sans", sans-serif');
unitLabel.textContent = scaleUnit;
scaleGroup.appendChild(unitLabel);
</script>
</body>
</html>
